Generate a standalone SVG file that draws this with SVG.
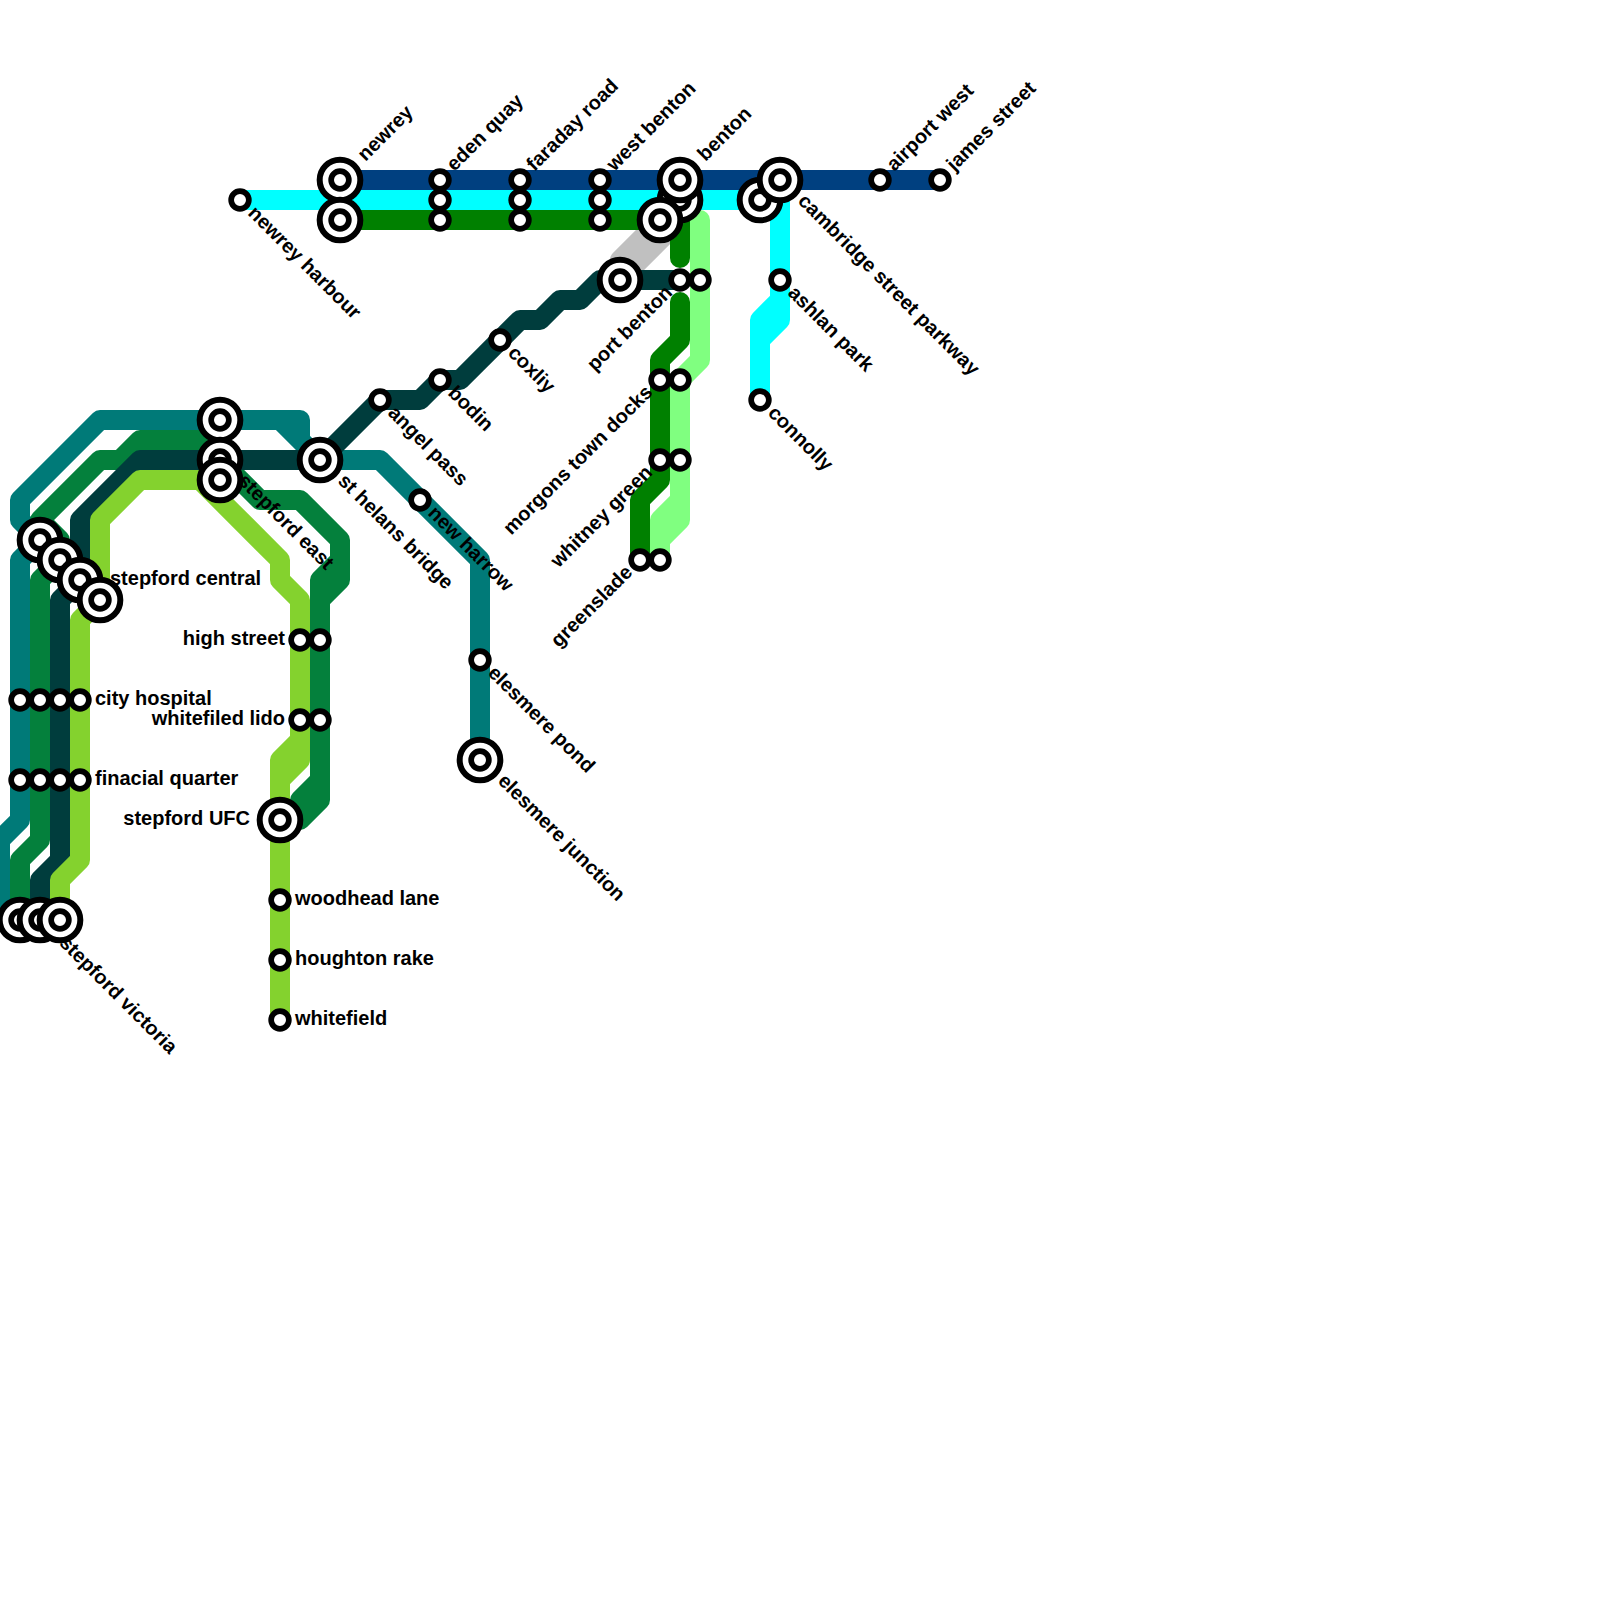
<svg xmlns="http://www.w3.org/2000/svg" width="1600" height="1600" viewBox="0 0 1600 1600">
<defs>
<style>
.l{fill:none;stroke-width:20;stroke-linejoin:round;stroke-linecap:round}
.o{fill:#fff;stroke:#000;stroke-width:6}
.i{fill:#fff;stroke:#000;stroke-width:5.7}
text{font-family:"Liberation Sans",Arial,sans-serif;font-weight:700;font-size:20px;fill:#000}
.e{text-anchor:end}
</style>
<g id="s"><circle class="i" r="8.85"/></g>
<g id="b"><circle class="o" r="20.33"/><circle class="i" r="8.85"/></g>
</defs>
<rect width="1600" height="1600" fill="#fff"/>
<g id="connectors">
<path class="l" stroke="#c0c0c0" d="M620 280L680 220M620 260L660 220"/>
<path class="l" stroke="#007a78" d="M20 920L0 900V840L20 820V560L40 540L20 520V500L100 420H280L320 460M280 420H300V440L320 460H380L480 560V760"/>
<path class="l" stroke="#04803c" d="M20 920V860L40 840V580L60 560V540L40 520L100 460H120L140 440H220V460L260 500H300L340 540V580L320 600V800L300 820H280M340 560L320 580V600M320 780L300 800V820"/>
<path class="l" stroke="#003d3d" d="M40 920V880L60 860V600L80 580V520L140 460H320L380 400H420L440 380H460L520 320H540L560 300H580L600 280H680"/>
<path class="l" stroke="#84d22e" d="M60 920V880L80 860V620L100 600V520L140 480H200L280 560V580L300 600V760L280 780V1020M300 740L280 760V780"/>
<path class="l" stroke="#008000" d="M340 220H660L680 220V258M680 302V340L660 360V480L640 500V560"/>
<path class="l" stroke="#80ff80" d="M700 220V360L680 380V520L660 540V560M680 500L660 520V540"/>
<path class="l" stroke="#00ffff" d="M240 200H780V320L760 340V400M780 300L760 320V340"/>
<path class="l" stroke="#004080" d="M340 180H940"/>
</g>
<g id="newrey"><use href="#b" x="340" y="180"/><text transform="translate(365.500 162) rotate(-45)">newrey</text></g>
<g id="newrey-2"><use href="#b" x="340" y="220"/></g>
<g id="newrey-harbour"><use href="#s" x="240" y="200"/><text transform="translate(247 214) rotate(45)">newrey harbour</text></g>
<g id="eden-quay"><use href="#s" x="440" y="180"/><use href="#s" x="440" y="200"/><use href="#s" x="440" y="220"/><text transform="translate(454.500 172) rotate(-45)">eden quay</text></g>
<g id="faraday-road"><use href="#s" x="520" y="180"/><use href="#s" x="520" y="200"/><use href="#s" x="520" y="220"/><text transform="translate(534.500 172) rotate(-45)">faraday road</text></g>
<g id="west-benton"><use href="#s" x="600" y="180"/><use href="#s" x="600" y="200"/><use href="#s" x="600" y="220"/><text transform="translate(614.500 172) rotate(-45)">west benton</text></g>
<g id="benton"><use href="#b" x="680" y="200"/><use href="#b" x="660" y="220"/><use href="#b" x="680" y="180"/><text transform="translate(705.500 162) rotate(-45)">benton</text></g>
<g id="cambridge-street-parkway"><use href="#b" x="760" y="200"/><use href="#b" x="780" y="180"/><text transform="translate(797 202) rotate(45)">cambridge street parkway</text></g>
<g id="airport-west"><use href="#s" x="880" y="180"/><text transform="translate(894.500 172) rotate(-45)">airport west</text></g>
<g id="james-street"><use href="#s" x="940" y="180"/><text transform="translate(954.500 172) rotate(-45)">james street</text></g>
<g id="ashlan-park"><use href="#s" x="780" y="280"/><text transform="translate(787 294) rotate(45)">ashlan park</text></g>
<g id="connolly"><use href="#s" x="760" y="400"/><text transform="translate(767 414) rotate(45)">connolly</text></g>
<g id="port-benton"><use href="#b" x="620" y="280"/><use href="#s" x="680" y="280"/><use href="#s" x="700" y="280"/><text class="e" transform="translate(673.500 293.500) rotate(-45)">port benton</text></g>
<g id="coxliy"><use href="#s" x="500" y="340"/><text transform="translate(507 354) rotate(45)">coxliy</text></g>
<g id="bodin"><use href="#s" x="440" y="380"/><text transform="translate(447 394) rotate(45)">bodin</text></g>
<g id="angel-pass"><use href="#s" x="380" y="400"/><text transform="translate(387 414) rotate(45)">angel pass</text></g>
<g id="st-helans-bridge"><use href="#b" x="320" y="460"/><text transform="translate(337 482) rotate(45)">st helans bridge</text></g>
<g id="new-harrow"><use href="#s" x="420" y="500"/><text transform="translate(427 514) rotate(45)">new harrow</text></g>
<g id="elesmere-pond"><use href="#s" x="480" y="660"/><text transform="translate(487 674) rotate(45)">elesmere pond</text></g>
<g id="elesmere-junction"><use href="#b" x="480" y="760"/><text transform="translate(497 782) rotate(45)">elesmere junction</text></g>
<g id="morgons-town-docks"><use href="#s" x="660" y="380"/><use href="#s" x="680" y="380"/><text class="e" transform="translate(653.500 393.500) rotate(-45)">morgons town docks</text></g>
<g id="whitney-green"><use href="#s" x="660" y="460"/><use href="#s" x="680" y="460"/><text class="e" transform="translate(653.500 473.500) rotate(-45)">whitney green</text></g>
<g id="greenslade"><use href="#s" x="640" y="560"/><use href="#s" x="660" y="560"/><text class="e" transform="translate(633.500 573.500) rotate(-45)">greenslade</text></g>
<g id="stepford-east"><use href="#b" x="220" y="420"/><use href="#b" x="220" y="460"/><use href="#b" x="220" y="480"/><text transform="translate(237 482) rotate(45)">stepford east</text></g>
<g id="stepford-central"><use href="#b" x="40" y="540"/><use href="#b" x="60" y="560"/><use href="#b" x="80" y="580"/><use href="#b" x="100" y="600"/><text x="110" y="585">stepford central</text></g>
<g id="city-hospital"><use href="#s" x="20" y="700"/><use href="#s" x="40" y="700"/><use href="#s" x="60" y="700"/><use href="#s" x="80" y="700"/><text x="95" y="705">city hospital</text></g>
<g id="finacial-quarter"><use href="#s" x="20" y="780"/><use href="#s" x="40" y="780"/><use href="#s" x="60" y="780"/><use href="#s" x="80" y="780"/><text x="95" y="785">finacial quarter</text></g>
<g id="stepford-victoria"><use href="#b" x="20" y="920"/><use href="#b" x="40" y="920"/><use href="#b" x="60" y="920"/><text transform="translate(58.500 944) rotate(45)">stepford victoria</text></g>
<g id="high-street"><use href="#s" x="300" y="640"/><use href="#s" x="320" y="640"/><text class="e" x="285" y="645">high street</text></g>
<g id="whitefiled-lido"><use href="#s" x="300" y="720"/><use href="#s" x="320" y="720"/><text class="e" x="285" y="725">whitefiled lido</text></g>
<g id="stepford-ufc"><use href="#b" x="280" y="820"/><text class="e" x="250" y="825">stepford UFC</text></g>
<g id="woodhead-lane"><use href="#s" x="280" y="900"/><text x="295" y="905">woodhead lane</text></g>
<g id="houghton-rake"><use href="#s" x="280" y="960"/><text x="295" y="965">houghton rake</text></g>
<g id="whitefield"><use href="#s" x="280" y="1020"/><text x="295" y="1025">whitefield</text></g>
</svg>
